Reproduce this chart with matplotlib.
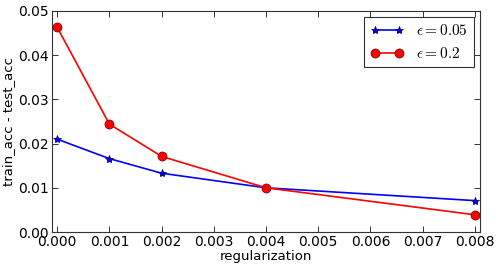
import matplotlib
matplotlib.use("Agg")
import matplotlib.pyplot as plt

reg = [0.0, 0.001, 0.002, 0.004, 0.008]
gap_eps005 = [0.0210, 0.0166, 0.0133, 0.0100, 0.0071]
gap_eps02 = [0.0463, 0.0244, 0.0171, 0.0100, 0.0039]
labels = [r"$\epsilon = 0.05$", r"$\epsilon = 0.2$"]

plt.rcParams['mathtext.fontset'] = 'cm'
plt.rcParams['font.family'] = 'DejaVu Sans'

fig = plt.figure(figsize=(4.98, 2.68), dpi=100)
ax = fig.add_axes([52/498, 1 - 232/268, (480-52)/498, (232-11)/268])
ax.plot(reg, gap_eps005, color='blue', marker='*', markersize=6, lw=1.2,
        markeredgecolor='navy', markeredgewidth=0.6, label=labels[0])
ax.plot(reg, gap_eps02, color='red', marker='o', markersize=6.5, lw=1.2,
        markeredgecolor='#660000', markeredgewidth=0.5, label=labels[1])
ax.set_xlim(-0.0001, 0.0081)
ax.set_ylim(0, 0.05)
ax.set_xticks([0.000, 0.001, 0.002, 0.003, 0.004, 0.005, 0.006, 0.007, 0.008])
ax.set_yticks([0.0, 0.01, 0.02, 0.03, 0.04, 0.05])
ax.set_xticklabels(["0.000", "0.001", "0.002", "0.003", "0.004", "0.005", "0.006", "0.007", "0.008"])
ax.set_yticklabels(["0.00", "0.01", "0.02", "0.03", "0.04", "0.05"])
ax.tick_params(direction='in', top=True, right=True, labelsize=10, length=4,
               width=0.7, pad=2.5, color='#333333')
for s in ax.spines.values():
    s.set_linewidth(0.8)
    s.set_color('#333333')
ax.set_xlabel("regularization", fontsize=9.5, labelpad=0.5)
ax.set_ylabel("train_acc - test_acc", fontsize=9.5, labelpad=2)
leg = ax.legend(loc='upper right', numpoints=2, fontsize=11, fancybox=False,
                framealpha=1, edgecolor='#333333', borderaxespad=0.4,
                handlelength=2.2)
leg.get_frame().set_linewidth(0.8)
fig.savefig("out.png", dpi=100, facecolor='white')
